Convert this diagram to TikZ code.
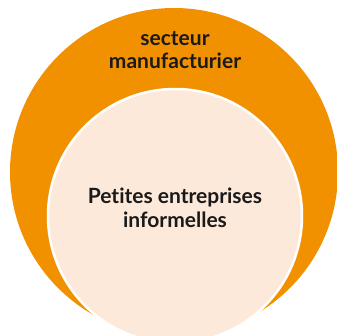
\documentclass[tikz,border=0pt]{standalone}
\usepackage{fontspec}
\setmainfont{Lato}[Ligatures={NoCommon}]
\definecolor{orangeC}{HTML}{F29100}
\definecolor{peach}{HTML}{FDE9DA}
\definecolor{txt}{HTML}{1A1A1A}
\begin{document}
\begin{tikzpicture}[x=1pt,y=1pt,
  lbl/.style={align=center,text=txt,font=\bfseries\fontsize{21}{23.5}\selectfont}]
\useasboundingbox (0,0) rectangle (337,335);
\clip (0,0) rectangle (337,335);
\node[circle,fill=orangeC,minimum size=328pt,inner sep=0pt] (outer) at (174,163) {};
\node[circle,fill=peach,draw=white,line width=2.5pt,minimum size=254pt,inner sep=0pt] (inner) at (175,119) {};
\node[lbl] (t1) at (175,285) {secteur\\manufacturier};
\node[lbl] (t2) at (175,127) {Petites entreprises\\informelles};
\end{tikzpicture}
\end{document}
